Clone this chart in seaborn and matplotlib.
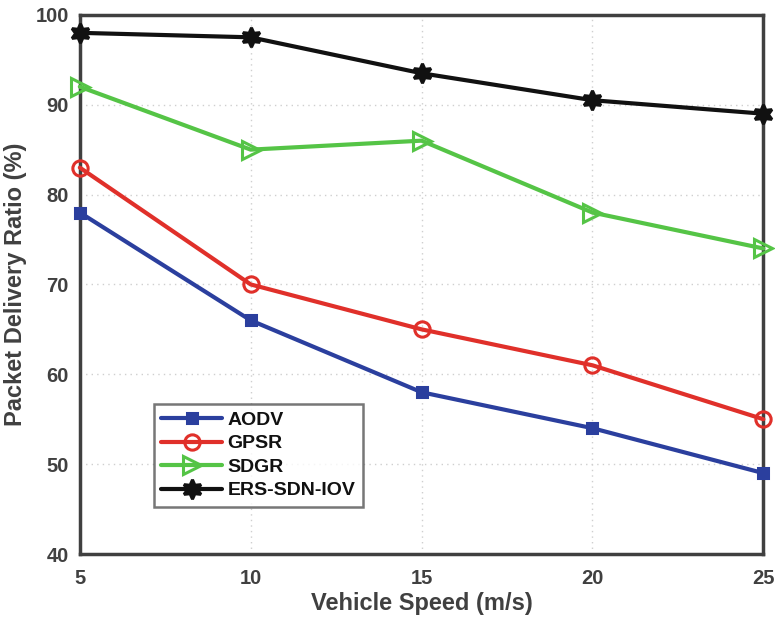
import matplotlib
matplotlib.use("Agg")
import matplotlib.pyplot as plt
import seaborn as sns
import pandas as pd

speeds = [5, 10, 15, 20, 25]
aodv = [78, 66, 58, 54, 49]
gpsr = [83, 70, 65, 61, 55]
sdgr = [92, 85, 86, 78, 74]
ers = [98, 97.5, 93.5, 90.5, 89]
series_names = ["AODV", "GPSR", "SDGR", "ERS-SDN-IOV"]
yticks = [40, 50, 60, 70, 80, 90, 100]

sns.set_theme(style="white")
plt.rcParams['font.family'] = ['Liberation Sans', 'DejaVu Sans']
plt.rcParams['font.weight'] = 'bold'

df = pd.DataFrame({
    "speed": speeds * 4,
    "pdr": aodv + gpsr + sdgr + ers,
    "method": sum([[n] * len(speeds) for n in series_names], []),
})

colors = {"AODV": "#2b3f9e", "GPSR": "#e0302a", "SDGR": "#55c446", "ERS-SDN-IOV": "#111111"}
markers = {"AODV": "s", "GPSR": "o", "SDGR": ">", "ERS-SDN-IOV": (6, 1, 0)}
msize = {"AODV": 7.5, "GPSR": 11, "SDGR": 13, "ERS-SDN-IOV": 14}
mface = {"AODV": "#2b3f9e", "GPSR": "none", "SDGR": "none", "ERS-SDN-IOV": "#111111"}

fig = plt.figure(figsize=(7.75, 6.19), dpi=100)
ax = fig.add_axes([0.103, 0.105, 0.882, 0.871])

for name in series_names:
    sub = df[df["method"] == name]
    sns.lineplot(data=sub, x="speed", y="pdr", ax=ax, color=colors[name],
                 marker=markers[name], markersize=msize[name], linewidth=3,
                 markerfacecolor=mface[name],
                 markeredgecolor=colors[name], markeredgewidth=2.2,
                 label=name, clip_on=False, zorder=3)

ax.set_xlim(5, 25)
ax.set_ylim(40, 100)
ax.set_xticks(speeds)
ax.set_yticks(yticks)
ax.grid(True, linestyle=(0, (1, 3)), color="#cfcfcf", linewidth=1)
ax.tick_params(direction="in", length=6, width=2, colors="#404040", labelsize=14.5)
ax.tick_params(axis="x", pad=11)
ax.tick_params(axis="y", pad=8)
for lbl in ax.get_xticklabels() + ax.get_yticklabels():
    lbl.set_fontweight("bold")
for sp in ax.spines.values():
    sp.set_color("#404040")
    sp.set_linewidth(2.5)
    sp.set_zorder(2)
ax.set_xlabel("Vehicle Speed (m/s)", fontsize=17, fontweight="bold", color="#404040", labelpad=3)
ax.set_ylabel("Packet Delivery Ratio (%)", fontsize=17, fontweight="bold", color="#404040", labelpad=6)

leg = ax.legend(loc="lower left", bbox_to_anchor=(0.108, 0.087), fontsize=14,
                frameon=True, fancybox=False, handlelength=3.1, borderpad=0.4,
                labelspacing=0.3, handletextpad=0.3, borderaxespad=0)
leg.get_frame().set_edgecolor("#555555")
leg.get_frame().set_linewidth(1.8)
for t in leg.get_texts():
    t.set_fontweight("bold")
    t.set_color("#111111")

fig.savefig("out.png", dpi=100)
